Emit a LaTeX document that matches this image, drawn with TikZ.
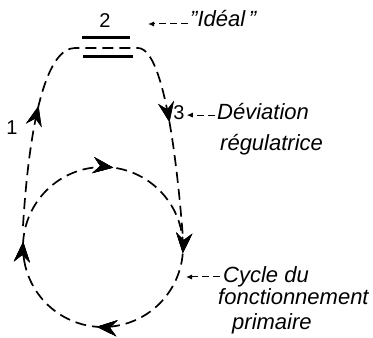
\documentclass[tikz,border=0pt]{standalone}
\usepackage{fontspec}
\setmainfont{Liberation Sans}
\usetikzlibrary{arrows.meta,decorations.markings}

\tikzset{
  loopline/.style={line width=1.7pt, dash pattern=on 11pt off 6pt},
  annot/.style={line width=1pt, dash pattern=on 7pt off 4pt,
    -{Latex[length=6pt,width=5pt]}},
  lbl/.style={font=\fontsize{22}{24}\selectfont\itshape, inner sep=0pt, anchor=base west},
  num/.style={font=\fontsize{20}{24}\selectfont, inner sep=0pt, anchor=base},
  marks/.style={postaction={decorate}, decoration={markings,
    mark=at position #1 with {\arrow{Stealth[length=20pt,width=16pt,inset=7pt]}}}},
}

\begin{document}
\begin{tikzpicture}[x=1pt,y=1pt]
\useasboundingbox (0,0) rectangle (373,338);

% Cycle du fonctionnement primaire (clockwise)
\coordinate (ctr) at (103,91);
\draw[loopline, marks=0.038, marks=0.298, marks=0.54, marks=0.79]
  ([shift={(190:80)}]ctr) arc[start angle=190, end angle=-170, radius=80];

% Outer loop 1 - 2 - 3
\draw[loopline, marks=0.265, marks=0.745]
  (23,112) .. controls (30,225) and (48,290) .. (75,290)
  -- (138,290) .. controls (155,290) and (172,240) .. (183,100);

% Ideal bars
\draw[line width=3pt] (82,300) -- (130,300);
\draw[line width=3pt] (83,281) -- (133,281);

% Labels
\node[num] (two) at (105,310) {2};
\node[num] (one) at (12,203) {1};
\node[num] (three) at (179,218) {3};

\node[lbl] (ideal) at (190,311) {"Idéal\,"};
\node[lbl] (dev) at (217,218) {Déviation};
\node[lbl] (reg) at (220,187) {régulatrice};
\node[lbl] (cyc) at (223,55) {Cycle du};
\node[lbl] (fonc) at (218,33) {fonctionnement};
\node[lbl] (prim) at (232,9) {primaire};

% Pointers
\coordinate (idealtip) at (148,314);
\coordinate (cyctip) at (186,61);
\draw[annot] (idealtip -| ideal.west) ++(-2,0) -- (idealtip);
\draw[annot] ([xshift=-2pt]dev.west |- three.east) ++(0,-2) -- ([shift={(2,-2)}]three.east);
\draw[annot] (cyctip -| cyc.west) ++(-3,0) -- (cyctip);

\end{tikzpicture}
\end{document}
